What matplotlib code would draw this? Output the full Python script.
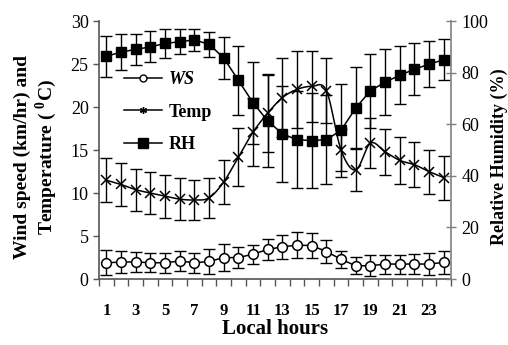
import numpy as np
import matplotlib
matplotlib.use('Agg')
import matplotlib.pyplot as plt
from matplotlib.lines import Line2D

# ---------------- data ----------------
hours = list(range(1, 25))
xtick_labels = ['1', '3', '5', '7', '9', '11', '13', '15', '17', '19', '21', '23']

ws = [1.9, 1.98, 2.0, 1.9, 1.9, 2.1, 1.9, 2.05, 2.5, 2.5, 2.9, 3.45,
      3.75, 3.95, 3.9, 3.2, 2.3, 1.55, 1.55, 1.75, 1.75, 1.75, 1.75, 1.95]
ws_err = [1.45, 1.25, 1.15, 1.1, 1.15, 1.15, 1.15, 1.45, 1.6, 1.2, 1.1, 1.25,
          1.4, 1.55, 1.5, 1.35, 1.0, 1.0, 1.2, 1.1, 1.1, 1.15, 1.25, 1.3]

temp = [11.5, 11.0, 10.4, 10.0, 9.65, 9.3, 9.2, 9.45, 11.3, 14.2, 17.1, 19.3,
        21.1, 22.05, 22.4, 21.9, 15.0, 12.7, 15.8, 14.8, 13.8, 13.3, 12.5, 11.8]
temp_err = [2.55, 2.55, 2.45, 2.45, 2.5, 2.4, 2.35, 2.3, 2.55, 3.4, 3.9, 4.5,
            4.6, 4.45, 4.1, 3.8, 2.4, 2.5, 2.9, 2.7, 2.7, 2.6, 2.55, 2.55]

rh = [86.3, 88.0, 89.0, 90.0, 91.3, 92.0, 92.7, 91.0, 85.7, 77.0, 68.3, 61.3,
      56.3, 54.0, 53.7, 54.0, 57.7, 66.3, 73.0, 76.3, 79.0, 81.3, 83.3, 85.0]
rh_err = [7.8, 7.0, 6.0, 6.0, 5.5, 4.8, 4.2, 4.8, 8.0, 13.3, 16.0, 17.7,
          18.7, 18.7, 18.3, 17.3, 18.0, 15.7, 14.3, 12.7, 11.3, 10.0, 9.0, 8.0]

series_names = ['WS', 'Temp', 'RH']
xlabel = 'Local hours'
ylabel_left = 'Wind speed (km/hr) and\nTemperature ( $^{\\mathbf{0}}$C)'
ylabel_right = 'Relative Humidity (%)'

# ---------------- style ----------------
plt.rcParams['font.family'] = ['Liberation Serif', 'DejaVu Serif']
plt.rcParams['mathtext.fontset'] = 'custom'
plt.rcParams['mathtext.rm'] = 'Liberation Serif'
plt.rcParams['mathtext.bf'] = 'Liberation Serif:bold'


def smooth_curve(x, y, n=20):
    """Excel-like smoothed line (Catmull-Rom Bezier) through the data points."""
    x = np.asarray(x, float)
    y = np.asarray(y, float)
    px = np.concatenate([[x[0]], x, [x[-1]]])
    py = np.concatenate([[y[0]], y, [y[-1]]])
    xs, ys = [], []
    t = np.linspace(0, 1, n)
    for i in range(1, len(px) - 2):
        p0 = np.array([px[i], py[i]])
        p3 = np.array([px[i + 1], py[i + 1]])
        p1 = p0 + (p3 - np.array([px[i - 1], py[i - 1]])) / 6.0
        p2 = p3 - (np.array([px[i + 2], py[i + 2]]) - p0) / 6.0
        b = ((1 - t) ** 3)[:, None] * p0 + (3 * (1 - t) ** 2 * t)[:, None] * p1 \
            + (3 * (1 - t) * t ** 2)[:, None] * p2 + (t ** 3)[:, None] * p3
        xs.extend(b[:, 0])
        ys.extend(b[:, 1])
    return xs, ys


fig = plt.figure(figsize=(5.08, 3.45), dpi=100)
ax = fig.add_axes([0.195, 0.191, 0.693, 0.748])
ax2 = ax.twinx()

lw = 1.1
# WS
ax.errorbar(hours, ws, yerr=ws_err, fmt='none', ecolor='black', elinewidth=1,
            capsize=4, capthick=1, zorder=2)
ax.plot(hours, ws, '-', color='black', lw=lw, zorder=3)
ax.plot(hours, ws, 'o', color='black', mfc='white', ms=7, mew=1.1, zorder=4)
# Temp
ax.errorbar(hours, temp, yerr=temp_err, fmt='none', ecolor='black', elinewidth=1,
            capsize=4, capthick=1, zorder=2)
sx, sy = smooth_curve(hours, temp)
ax.plot(sx, sy, '-', color='black', lw=lw, zorder=3)
ax.plot(hours, temp, 'x', color='black', ms=6.5, mew=1.1, zorder=4)
# RH on secondary axis
ax2.errorbar(hours, rh, yerr=rh_err, fmt='none', ecolor='black', elinewidth=1,
             capsize=4, capthick=1, zorder=2)
ax2.plot(hours, rh, '-s', color='black', mfc='black', ms=6.5, lw=lw, zorder=3)

# axes limits / ticks
ax.set_xlim(0.5, 24.5)
ax.set_ylim(0, 30)
ax2.set_ylim(0, 100)
ax.set_yticks(np.arange(0, 31, 5))
ax2.set_yticks(np.arange(0, 101, 20))
ax.set_xticks(hours[::2])
ax.set_xticklabels(xtick_labels, fontweight='bold', fontsize=12)
ax.set_xticks(np.arange(0.5, 25, 1), minor=True)
ax.tick_params(axis='x', which='major', length=0, pad=17)
ax.tick_params(axis='x', which='minor', length=5, width=1, direction='out', color='#555555')
ax.tick_params(axis='y', length=4.5, width=1, direction='out', pad=3, labelsize=13,
               color='#555555')
ax2.tick_params(axis='y', length=6.5, width=1, direction='inout', pad=4, labelsize=13,
                color='#808080')

for s in ['top', 'right']:
    ax.spines[s].set_visible(False)
for s in ['top', 'left', 'bottom']:
    ax2.spines[s].set_visible(False)
ax.spines['left'].set_color('#555555')
ax.spines['bottom'].set_color('#555555')
ax2.spines['right'].set_color('#808080')
for s in ['left', 'bottom']:
    ax.spines[s].set_linewidth(1.2)
ax2.spines['right'].set_linewidth(1.2)

ax.set_xlabel(xlabel, fontsize=15, fontweight='bold', labelpad=0)
ax.set_ylabel(ylabel_left, fontsize=14, fontweight='bold', labelpad=8, linespacing=1.15)
ax2.set_ylabel(ylabel_right, fontsize=13, fontweight='bold', labelpad=2)
ax.yaxis.label.set_y(0.475)
ax2.yaxis.label.set_y(0.475)

# legend
handles = [
    Line2D([], [], color='black', lw=lw, marker='o', mfc='white', ms=5, mew=1),
    Line2D([], [], color='black', lw=lw, marker=(6, 2, 0), ms=5, mew=1),
    Line2D([], [], color='black', lw=lw, marker='s', mfc='black', ms=6.5),
]
leg = ax2.legend(handles, series_names, loc='upper left', bbox_to_anchor=(0.072, 0.805),
                 frameon=False, prop=dict(weight='bold', size=13), handlelength=2.1,
                 labelspacing=0.85, borderpad=0, borderaxespad=0, handletextpad=0.35)
leg.get_texts()[0].set_style('italic')

fig.savefig('out.png', dpi=100)
